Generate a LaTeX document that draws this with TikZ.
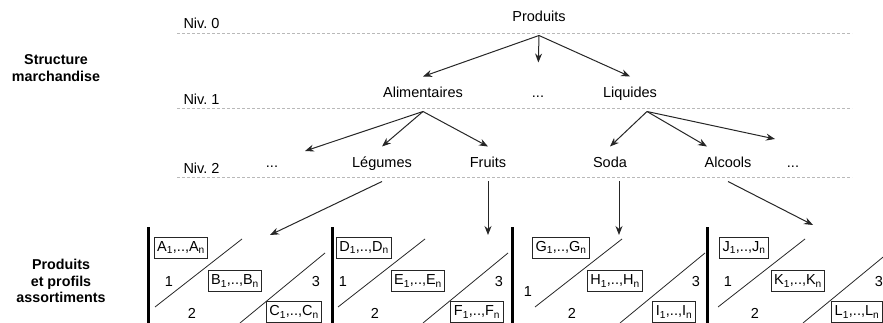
\documentclass[tikz,border=0pt]{standalone}
\usepackage{fontspec}
\setmainfont{Liberation Sans}
\usetikzlibrary{arrows.meta}

\begin{document}
\begin{tikzpicture}[
        x=1pt, y=-1pt,
        line width=1pt,
        font=\fontsize{14.5}{17}\selectfont,
        >={Stealth[length=9pt,width=7pt]}
    ]
    \tikzset{
        catnode/.style = {inner sep=0pt, minimum height=34pt, text height=10.5pt, text depth=3pt},
        levellabel/.style = {inner sep=0pt, anchor=west},
        sidelabel/.style = {align=center, inner sep=0pt, font=\fontsize{14.3}{16.5}\selectfont\bfseries},
        levelline/.style = {gray!55, line width=0.7pt, dash pattern=on 3pt off 2pt},
        profilbox/.style = {rectangle, draw=black!85, inner sep=3pt, minimum height=21pt},
        divider/.style = {draw=black!85, line width=0.8pt},
        bar/.style = {line width=3pt},
        link/.style = {->, draw=black!85},
    }
    \useasboundingbox (0,0) rectangle (883,323);
    \clip (0,0) rectangle (883,323);

    \node[sidelabel] (struct) at (56,68) {Structure\\marchandise};
    \node[sidelabel] (assort) at (61,281) {Produits\\et profils\\assortiments};

    \foreach \y in {33,108,177}
        \draw[levelline] (177,\y) -- (852,\y);
    \node[levellabel] (niv0) at (183,23) {Niv.\ 0};
    \node[levellabel] (niv1) at (183,99) {Niv.\ 1};
    \node[levellabel] (niv2) at (183,168) {Niv.\ 2};

    \node[catnode] (produits) at (539,18) {Produits};
    \node[catnode] (alim) at (423,94) {Alimentaires};
    \node[catnode] (more1) at (538,94) {...};
    \node[catnode] (liq) at (630,94) {Liquides};
    \node[catnode] (more2a) at (272,164) {...};
    \node[catnode] (legumes) at (382,164) {Légumes};
    \node[catnode] (fruits) at (488,164) {Fruits};
    \node[catnode] (soda) at (610,164) {Soda};
    \node[catnode] (alcools) at (728,164) {Alcools};
    \node[catnode] (more2b) at (793,164) {...};

    \coordinate (alimmore) at (305,151);
    \coordinate (liqmore) at (775,139);
    \coordinate (pan1) at (270,235);
    \coordinate (pan2) at (488,235);
    \coordinate (pan3) at (619,235);
    \coordinate (pan4) at (813,225);

    \draw[link] (produits.south) -- (alim.north);
    \draw[link, shorten >=14pt] (produits.south) -- (more1.north);
    \draw[link] (produits.south) -- (liq.north);
    \draw[link] (alim.south) -- (alimmore);
    \draw[link] (alim.south) -- (legumes.north);
    \draw[link] (alim.south) -- (fruits.north);
    \draw[link] ([xshift=17pt]liq.south) -- (soda.north);
    \draw[link] ([xshift=17pt]liq.south) -- ([xshift=-21pt]alcools.north);
    \draw[link] ([xshift=17pt]liq.south) -- (liqmore);
    \draw[link] (legumes.south) -- (pan1);
    \draw[link] (fruits.south) -- (pan2);
    \draw[link] ([xshift=9pt]soda.south) -- (pan3);
    \draw[link] (alcools.south) -- (pan4);

    \foreach \b/\o/\c/\cy/\p/\q/\r [count=\i] in {148/1/21/282/A/B/C, 332/0/11/282/D/E/F, 512/17/16/292/G/H/I, 707/5/21/282/J/K/L} {
        \draw[bar] (\b,227) -- (\b,323);
        \draw[divider] (\b+\o+6,307) -- (\b+\o+93,239);
        \draw[divider] (\b+\o+91,323) -- (\b+\o+176,253);
        \node[profilbox] (box\p) at (\b+\o+32,247.5) {\p\textsubscript{1},..,\p\textsubscript{n}};
        \node[profilbox] (box\q) at (\b+\o+86,281) {\q\textsubscript{1},..,\q\textsubscript{n}};
        \node[profilbox] (box\r) at (\b+\o+145,312) {\r\textsubscript{1},..,\r\textsubscript{n}};
        \node (one\i) at (\b+\c,\cy) {1};
        \node (two\i) at (\b+\o+43,313) {2};
        \node (three\i) at (\b+\o+167,282) {3};
    }
\end{tikzpicture}
\end{document}
